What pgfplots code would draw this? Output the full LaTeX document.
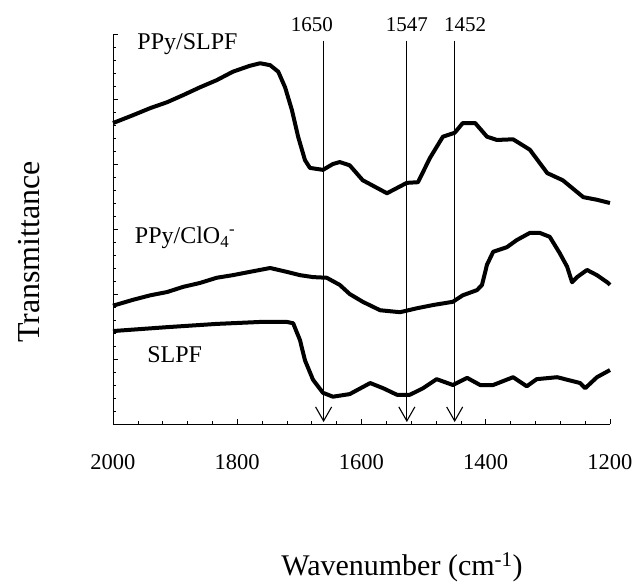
\documentclass[border=0pt]{standalone}
\usepackage{pgfplots}
\pgfplotsset{compat=1.18}
\usepackage{fontspec}
\setmainfont{Liberation Serif}
\usetikzlibrary{arrows.meta}
\begin{document}
\begin{tikzpicture}
\useasboundingbox (-113pt,-158pt) rectangle (522pt,424pt);
\begin{axis}[
  at={(0,0)}, anchor=south west,
  width=497pt, height=390pt, scale only axis,
  xmin=1200, xmax=2000, x dir=reverse,
  ymin=0, ymax=6,
  axis x line*=bottom, axis y line*=left,
  xtick={1200,1400,...,2000},
  minor x tick num=4,
  ytick={0,1,...,6}, yticklabels={},
  minor y tick num=4,
  tick align=inside,
  major tick length=5pt, minor tick length=3.5pt,
  tick style={black, line width=0.6pt},
  axis line style={line width=0.8pt},
  /pgf/number format/assume math mode=true,
  /pgf/number format/1000 sep={},
  xticklabel style={font=\fontsize{22.5}{24}\selectfont, yshift=-27pt},
  clip=false,
]
\addplot[black, line width=4pt, line join=round] coordinates {
(2000,4.63)(1968,4.75)(1940,4.86)(1913,4.95)(1887,5.06)(1860,5.18)(1833,5.29)(1807,5.42)(1780,5.51)(1763,5.55)(1747,5.52)(1734,5.42)(1723,5.18)(1712,4.83)(1702,4.42)(1691,4.06)(1683,3.94)(1662,3.91)(1646,4.00)(1635,4.03)(1619,3.98)(1598,3.75)(1559,3.55)(1527,3.71)(1509,3.72)(1490,4.09)(1469,4.42)(1450,4.48)(1437,4.63)(1417,4.63)(1398,4.42)(1382,4.37)(1356,4.38)(1329,4.22)(1301,3.86)(1276,3.75)(1243,3.49)(1221,3.45)(1200,3.40)
};
\addplot[black, line width=4pt, line join=round] coordinates {
(2000,1.82)(1968,1.91)(1940,1.98)(1913,2.03)(1887,2.11)(1860,2.17)(1833,2.25)(1807,2.29)(1780,2.34)(1747,2.40)(1720,2.34)(1699,2.29)(1678,2.26)(1656,2.25)(1635,2.14)(1619,2.00)(1598,1.88)(1570,1.75)(1538,1.72)(1511,1.78)(1485,1.83)(1453,1.88)(1437,1.98)(1414,2.06)(1406,2.14)(1398,2.45)(1388,2.65)(1366,2.72)(1350,2.83)(1329,2.94)(1313,2.94)(1297,2.88)(1281,2.63)(1269,2.42)(1261,2.18)(1253,2.26)(1237,2.37)(1221,2.29)(1203,2.17)(1200,2.14)
};
\addplot[black, line width=4pt, line join=round] coordinates {
(2000,1.43)(1913,1.49)(1833,1.54)(1763,1.57)(1720,1.57)(1710,1.55)(1699,1.29)(1691,0.98)(1678,0.68)(1662,0.48)(1646,0.42)(1619,0.46)(1586,0.63)(1565,0.55)(1543,0.45)(1522,0.45)(1501,0.55)(1479,0.69)(1453,0.60)(1430,0.71)(1409,0.60)(1388,0.60)(1356,0.72)(1334,0.58)(1318,0.69)(1285,0.72)(1248,0.63)(1240,0.55)(1221,0.72)(1200,0.83)
};
\foreach \w/\lw/\lab in {1661/1680/1650,1527/1527/1547,1450/1433/1452}{
  \edef\tmp{\noexpand\draw[line width=1.1pt, -{Straight Barb[length=14pt,width=16pt,line width=1.1pt]}] (axis cs:\w,5.9) -- (axis cs:\w,0.03);
  \noexpand\node[font=\noexpand\fontsize{21}{23}\noexpand\selectfont] at (axis cs:\lw,6.15) {\lab};}
  \tmp
}
\node[anchor=west, font=\fontsize{24}{26}\selectfont, inner sep=0pt] at (axis cs:1961,5.85) {PPy/SLPF};
\node[anchor=west, font=\fontsize{24}{26}\selectfont, inner sep=0pt] at (axis cs:1965,2.86) {PPy/ClO\textsubscript{4}\textsuperscript{-}};
\node[anchor=west, font=\fontsize{24}{26}\selectfont, inner sep=0pt] at (axis cs:1945,1.06) {SLPF};
\end{axis}
\node[font=\fontsize{32}{34}\selectfont, rotate=90] at (-84pt,172pt) {Transmittance};
\node[font=\fontsize{30}{32}\selectfont] at (289pt,-143pt) {Wavenumber (cm\textsuperscript{-1})};
\end{tikzpicture}
\end{document}
